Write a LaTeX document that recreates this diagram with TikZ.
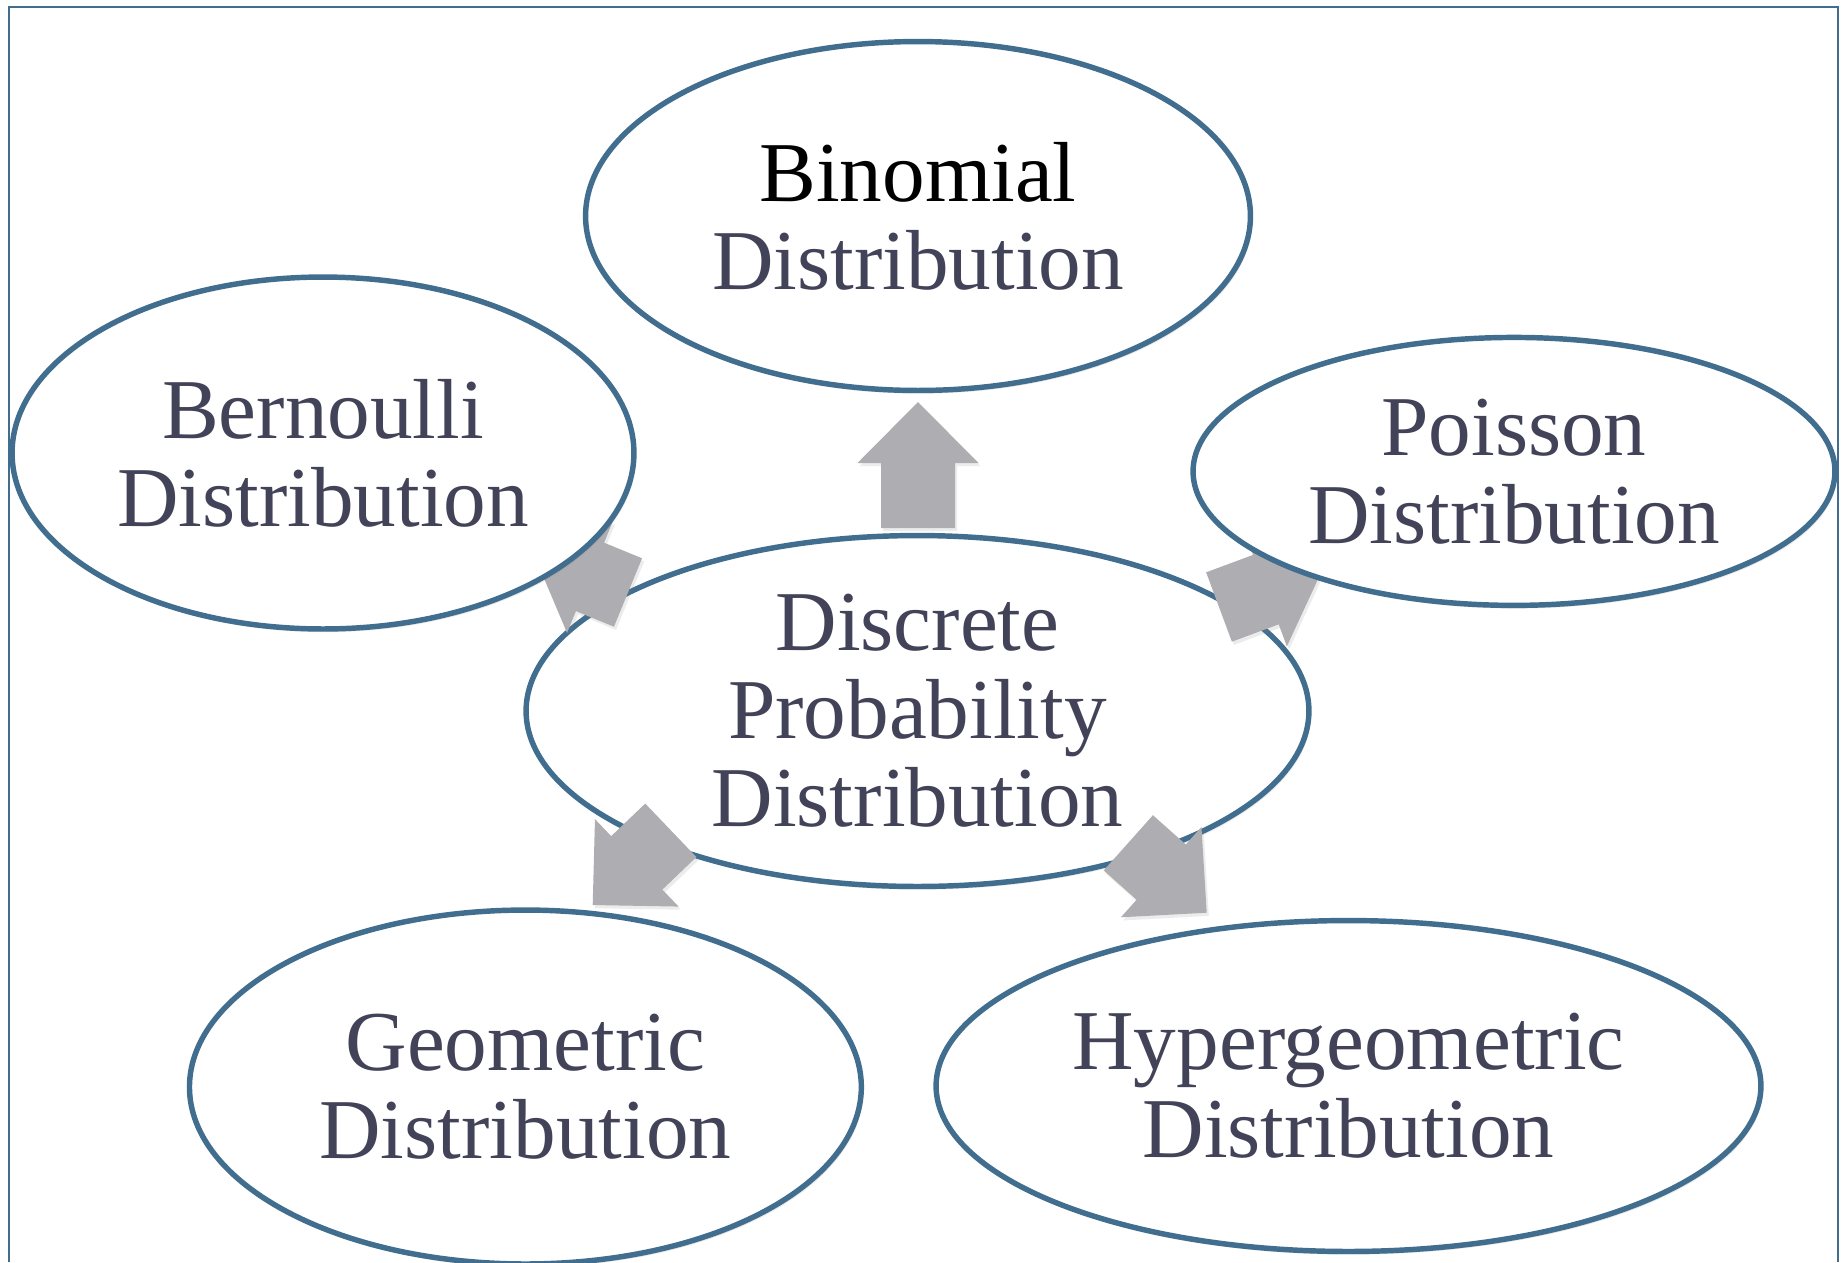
\documentclass[tikz,border=0pt]{standalone}
\usepackage{fontspec}
\setmainfont{Liberation Serif}
\usetikzlibrary{calc}
\usetikzlibrary{shapes.geometric,shadows}

\definecolor{edge}{HTML}{416E8E}
\definecolor{slate}{HTML}{424358}
\definecolor{blkgray}{HTML}{AEAEB2}

\newcommand{\shaftw}{0.74cm}
\newcommand{\headw}{1.21cm}
\newcommand{\headl}{1.22cm}
% 粗箭头: #1 尾部, #2 箭尖
\newcommand{\blkarrow}[2]{%
  \path ($(#2)!\headl!(#1)$) coordinate (hb);
  \fill[blk] ($(#1)!\shaftw!90:(#2)$) -- ($(hb)!\shaftw!90:(#2)$)
    -- ($(hb)!\headw!90:(#2)$) -- (#2) -- ($(hb)!\headw!-90:(#2)$)
    -- ($(hb)!\shaftw!-90:(#2)$) -- ($(#1)!\shaftw!-90:(#2)$) -- cycle;
}

\begin{document}
\begin{tikzpicture}[x=0.02cm,y=-0.02cm,
    bubble/.style={ellipse,draw=edge,line width=3.1pt,fill=white,
      drop shadow={opacity=0.18,shadow xshift=1.2pt,shadow yshift=-1.8pt}},
    lbl/.style={align=center,text=slate,font=\fontsize{48.5}{50}\selectfont},
    blk/.style={fill=blkgray,line join=miter,
      drop shadow={opacity=0.15,shadow xshift=1.2pt,shadow yshift=-1.8pt}},
    frame/.style={draw=edge,line width=1.1pt}]
        \path[use as bounding box,fill=white] (0,0) rectangle (1841,1262);
        % 外框
        \draw[frame] (9,1262) -- (9,7) -- (1838,7) -- (1838,1262);

        % 中心椭圆
        \node[bubble,minimum width=15.66cm,minimum height=7.02cm] (ctr) at (917.5,711) {};

        % 箭头
        \coordinate (binT) at (918,528);
        \coordinate (binH) at (918,402);
        \coordinate (berT) at (628,592.5);
        \coordinate (berH) at (533.6,553.7);
        \coordinate (poiT) at (1219,607);
        \coordinate (poiH) at (1323,568.4);
        \coordinate (geoT) at (670.8,830.3);
        \coordinate (geoH) at (592.7,905);
        \coordinate (hypT) at (1128.3,842.8);
        \coordinate (hypH) at (1206.7,912.7);
        \blkarrow{binT}{binH}
        \blkarrow{berT}{berH}
        \blkarrow{poiT}{poiH}
        \blkarrow{geoT}{geoH}
        \blkarrow{hypT}{hypH}

        % 外围椭圆
        \node[bubble,minimum width=13.3cm,minimum height=6.98cm] (bin) at (918,216) {};
        \node[bubble,minimum width=12.44cm,minimum height=7.04cm] (ber) at (323,453) {};
        \node[bubble,minimum width=12.84cm,minimum height=5.36cm] (poi) at (1514,471.4) {};
        \node[bubble,minimum width=13.44cm,minimum height=7.08cm] (geo) at (525.4,1087) {};
        \node[bubble,minimum width=16.5cm,minimum height=6.62cm] (hyp) at (1348.5,1086) {};

        % 文字
        \node[lbl] (ctrL) at (ctr) {Discrete\\Probability\\Distribution};
        \node[lbl] (binL) at (bin) {{\color{black}Binomial}\\Distribution};
        \node[lbl] (berL) at (ber) {Bernoulli\\Distribution};
        \node[lbl] (poiL) at (poi) {Poisson\\Distribution};
        \node[lbl] (geoL) at (geo) {Geometric\\Distribution};
        \node[lbl] (hypL) at (hyp) {Hypergeometric\\Distribution};

    \end{tikzpicture}
\end{document}
